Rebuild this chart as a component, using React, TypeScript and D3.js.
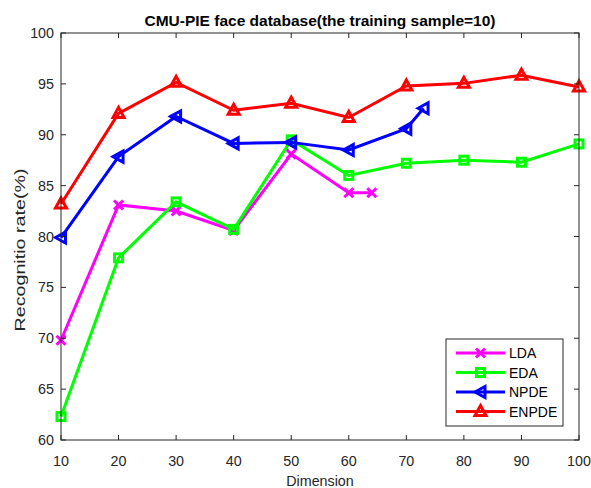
import React from "react";
import * as d3 from "d3";

const ldaX = [10, 20, 30, 40, 50, 60, 64];
const ldaY = [69.8, 83.1, 82.5, 80.6, 88.1, 84.3, 84.3];
const edaX = [10, 20, 30, 40, 50, 60, 70, 80, 90, 100];
const edaY = [62.3, 77.9, 83.4, 80.7, 89.5, 86.0, 87.2, 87.5, 87.3, 89.1];
const npdeX = [10, 20, 30, 40, 50, 60, 70, 73];
const npdeY = [79.9, 87.85, 91.8, 89.15, 89.25, 88.5, 90.6, 92.6];
const enpdeX = [10, 20, 30, 40, 50, 60, 70, 80, 90, 100];
const enpdeY = [83.2, 92.1, 95.15, 92.4, 93.1, 91.7, 94.8, 95.05, 95.85, 94.7];
const xTicks = [10, 20, 30, 40, 50, 60, 70, 80, 90, 100];
const yTicks = [60, 65, 70, 75, 80, 85, 90, 95, 100];

const series = [
  { name: "LDA", xs: ldaX, ys: ldaY, color: "#ff00ff", marker: "x" },
  { name: "EDA", xs: edaX, ys: edaY, color: "#00ff00", marker: "square" },
  { name: "NPDE", xs: npdeX, ys: npdeY, color: "#0000ff", marker: "left" },
  { name: "ENPDE", xs: enpdeX, ys: enpdeY, color: "#ff0000", marker: "up" },
];

const L = 61, R = 579, T = 33, B = 440;
const font = "Liberation Sans, Arial, sans-serif";

function Marker({ type, cx, cy, color }: { type: string; cx: number; cy: number; color: string }) {
  if (type === "x") {
    const s = 4.5;
    return (
      <path d={`M${cx - s},${cy - s}L${cx + s},${cy + s}M${cx - s},${cy + s}L${cx + s},${cy - s}`} stroke={color} strokeWidth={3} fill="none" />
    );
  }
  if (type === "square") {
    return <rect x={cx - 4} y={cy - 4} width={8} height={8} stroke={color} strokeWidth={3} fill="none" />;
  }
  if (type === "left") {
    return (
      <path d={`M${cx - 5.5},${cy}L${cx + 4.5},${cy - 5.5}L${cx + 4.5},${cy + 5.5}Z`} stroke={color} strokeWidth={3} fill="none" strokeLinejoin="miter" />
    );
  }
  return (
    <path d={`M${cx},${cy - 6}L${cx + 5.5},${cy + 4}L${cx - 5.5},${cy + 4}Z`} stroke={color} strokeWidth={3} fill="none" strokeLinejoin="miter" />
  );
}

export default function App() {
  const x = d3.scaleLinear().domain([10, 100]).range([L, R]);
  const y = d3.scaleLinear().domain([60, 100]).range([B, T]);
  const line = d3.line<[number, number]>().x((d) => x(d[0])).y((d) => y(d[1]));

  const legX = 446, legY = 339, legW = 117, legH = 87;
  return (
    <svg width={591} height={488} style={{ position: "absolute", left: 0, top: 0, background: "#fff" }}>
      <rect x={0} y={0} width={591} height={488} fill="#fff" />
      {series.map((s) => (
        <g key={s.name}>
          <path d={line(s.xs.map((v, i) => [v, s.ys[i]]) as [number, number][]) || ""} stroke={s.color} strokeWidth={3} fill="none" />
          {s.xs.map((v, i) => (
            <Marker key={i} type={s.marker} cx={x(v)} cy={y(s.ys[i])} color={s.color} />
          ))}
        </g>
      ))}
      <rect x={L} y={T} width={R - L} height={B - T} fill="none" stroke="#262626" strokeWidth={1} />
      {xTicks.map((t) => (
        <g key={"x" + t}>
          <line x1={x(t)} x2={x(t)} y1={B} y2={B - 5} stroke="#262626" />
          <line x1={x(t)} x2={x(t)} y1={T} y2={T + 5} stroke="#262626" />
          <text x={x(t)} y={B + 26} textAnchor="middle" fontFamily={font} fontSize={14.3} fill="#262626">{t}</text>
        </g>
      ))}
      {yTicks.map((t) => (
        <g key={"y" + t}>
          <line x1={L} x2={L + 5} y1={y(t)} y2={y(t)} stroke="#262626" />
          <line x1={R} x2={R - 5} y1={y(t)} y2={y(t)} stroke="#262626" />
          <text x={L - 7} y={y(t) + 5} textAnchor="end" fontFamily={font} fontSize={14.3} fill="#262626">{t}</text>
        </g>
      ))}
      <text x={(L + R) / 2} y={26} textAnchor="middle" fontFamily={font} fontSize={15.5} fontWeight="bold" fill="#000">CMU-PIE face database(the training sample=10)</text>
      <text x={(L + R) / 2} y={486} textAnchor="middle" fontFamily={font} fontSize={14.3} fill="#262626">Dimension</text>
      <text transform={`translate(25,250) rotate(-90)`} textAnchor="middle" fontFamily={font} fontSize={14.5} textLength={163} lengthAdjust="spacingAndGlyphs" fill="#262626">Recognitio rate(%)</text>
      <rect x={legX} y={legY} width={legW} height={legH} fill="#fff" stroke="#262626" strokeWidth={1} />
      {series.map((s, i) => {
        const cy = legY + 14 + i * 19.5;
        return (
          <g key={"leg" + s.name}>
            <line x1={legX + 10} x2={legX + 59} y1={cy} y2={cy} stroke={s.color} strokeWidth={3} />
            <Marker type={s.marker} cx={legX + 34.5} cy={cy} color={s.color} />
            <text x={legX + 63} y={cy + 5} fontFamily={font} fontSize={14} fill="#000">{s.name}</text>
          </g>
        );
      })}
    </svg>
  );
}
